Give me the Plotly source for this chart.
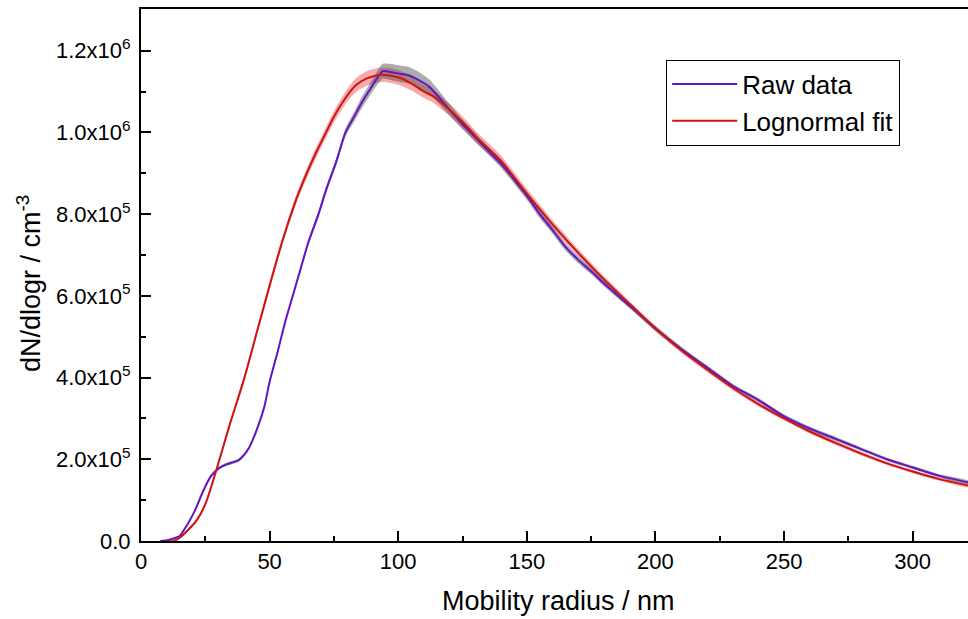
import plotly.graph_objects as go

# ---------------- data ----------------
raw_r = [7.5, 10, 12, 15, 18, 21, 24, 27, 30, 33, 36, 38, 40, 42, 45, 48, 50, 53, 56, 59,
         62, 65, 69, 72, 76, 79.5, 83, 86, 88.5, 91, 94, 97, 101, 104, 108, 112, 116, 120,
         125, 129, 135, 140, 145, 150, 155, 159, 165, 170, 175, 180, 190, 200, 210, 220,
         230, 240, 250, 260, 270, 280, 290, 300, 310, 322]
raw_n = [0, 2e3, 5e3, 1.2e4, 4e4, 7.5e4, 1.2e5, 1.57e5, 1.77e5, 1.87e5, 1.93e5, 1.98e5,
         2.1e5, 2.28e5, 2.72e5, 3.3e5, 3.9e5, 4.6e5, 5.35e5, 6.0e5, 6.65e5, 7.3e5, 8.0e5,
         8.6e5, 9.3e5, 1.0e6, 1.04e6, 1.075e6, 1.1e6, 1.125e6, 1.15e6, 1.148e6, 1.143e6,
         1.14e6, 1.128e6, 1.112e6, 1.085e6, 1.055e6, 1.02e6, 9.94e5, 9.55e5, 9.23e5,
         8.85e5, 8.45e5, 8.0e5, 7.69e5, 7.2e5, 6.88e5, 6.6e5, 6.3e5, 5.75e5, 5.2e5, 4.7e5,
         4.25e5, 3.8e5, 3.45e5, 3.05e5, 2.75e5, 2.5e5, 2.25e5, 2.0e5, 1.8e5, 1.6e5, 1.43e5]
raw_err = [0, 0, 0, 1e3, 2e3, 3e3, 3e3, 4e3, 4e3, 4e3, 4e3, 4e3, 4e3, 4e3, 5e3, 5e3,
           5e3, 6e3, 6e3, 6e3, 7e3, 7e3, 8e3, 8e3, 9e3, 1e4, 1.2e4, 1.4e4, 1.5e4, 1.6e4,
           1.8e4, 2e4, 2e4, 2e4, 2e4, 1.8e4, 1.6e4, 1.4e4, 1.2e4, 1.1e4, 1e4, 1e4, 1e4,
           1e4, 1e4, 9e3, 9e3, 8e3, 7e3, 7e3, 6e3, 6e3, 6e3, 5e3, 5e3, 5e3, 5e3, 5e3,
           5e3, 4e3, 4e3, 4e3, 4e3, 4e3]

fit_r = [10, 12.6, 15, 18, 21.7, 25, 29.5, 34.7, 40, 45, 50, 55, 60, 62, 65, 68.4, 70,
         74.8, 78, 81.3, 84, 87.8, 90, 93, 96, 100.8, 105, 110, 113.7, 120, 126.7, 130,
         139.6, 150, 160, 170, 180, 190, 200, 210, 220, 230, 240, 250, 260, 270, 280,
         290, 300, 310, 322]
fit_n = [0, 0, 8e3, 2.5e4, 5.1e4, 9e4, 1.78e5, 2.89e5, 3.95e5, 5.1e5, 6.25e5, 7.35e5,
         8.3e5, 8.63e5, 9.08e5, 9.55e5, 9.75e5, 1.036e6, 1.07e6, 1.1e6, 1.118e6,
         1.132e6, 1.137e6, 1.141e6, 1.14e6, 1.133e6, 1.12e6, 1.1e6, 1.088e6, 1.055e6,
         1.014e6, 9.9e5, 9.33e5, 8.5e5, 7.75e5, 7.05e5, 6.4e5, 5.8e5, 5.2e5, 4.67e5,
         4.2e5, 3.75e5, 3.35e5, 3.0e5, 2.68e5, 2.4e5, 2.14e5, 1.9e5, 1.7e5, 1.52e5,
         1.35e5]
fit_err = [0, 0, 2e3, 3e3, 4e3, 5e3, 6e3, 7e3, 8e3, 9e3, 1e4, 1e4, 1.1e4, 1.1e4, 1.2e4,
           1.3e4, 1.3e4, 1.4e4, 1.5e4, 1.6e4, 1.7e4, 1.8e4, 1.8e4, 1.8e4, 1.8e4, 1.8e4,
           1.7e4, 1.6e4, 1.6e4, 1.5e4, 1.4e4, 1.4e4, 1.3e4, 1.2e4, 1e4, 9e3, 8e3, 7e3,
           7e3, 6e3, 6e3, 6e3, 5e3, 5e3, 5e3, 5e3, 5e3, 4e3, 4e3, 4e3, 4e3]

ytick_vals = [0, 2e5, 4e5, 6e5, 8e5, 1.0e6, 1.2e6]
ytick_text = ["0.0", "2.0x10<sup>5</sup>", "4.0x10<sup>5</sup>", "6.0x10<sup>5</sup>",
              "8.0x10<sup>5</sup>", "1.0x10<sup>6</sup>", "1.2x10<sup>6</sup>"]
xtick_vals = [0, 50, 100, 150, 200, 250, 300]

x_title = "Mobility radius / nm"
y_title = "dN/dlogr / cm<sup>-3</sup>"

PURPLE = "#6414C8"
RED = "#CC1414"
FONT = "Liberation Sans, Arial, sans-serif"

fig = go.Figure()


def band(xs, ys, es, color):
    up = [y + e for y, e in zip(ys, es)]
    lo = [y - e for y, e in zip(ys, es)]
    fig.add_trace(go.Scatter(x=xs + xs[::-1], y=up + lo[::-1], fill="toself",
                             fillcolor=color, line=dict(width=0, shape="spline",
                                                        smoothing=0.6),
                             mode="lines", showlegend=False, hoverinfo="skip"))


band(fit_r, fit_n, fit_err, "rgba(235,70,70,0.45)")
band(raw_r, raw_n, raw_err, "rgba(70,70,70,0.45)")

fig.add_trace(go.Scatter(x=raw_r, y=raw_n, mode="lines", name="Raw data",
                         line=dict(color=PURPLE, width=2, shape="spline", smoothing=0.6)))
fig.add_trace(go.Scatter(x=fit_r, y=fit_n, mode="lines", name="Lognormal fit",
                         line=dict(color=RED, width=2, shape="spline", smoothing=0.8)))

axis_common = dict(showline=True, linecolor="black", linewidth=2, ticks="inside",
                   ticklen=10, tickwidth=2, tickcolor="black", showgrid=False,
                   zeroline=False, tickfont=dict(family=FONT, size=22, color="black"))

fig.update_xaxes(range=[0, 321.5], tickvals=xtick_vals, mirror=True,
                 minor=dict(ticks="inside", ticklen=5, tickwidth=2, tickcolor="black",
                            dtick=25, tick0=0),
                 **axis_common)
fig.update_yaxes(range=[0, 1.302e6], tickvals=ytick_vals, ticktext=ytick_text,
                 ticklabelstandoff=4,
                 minor=dict(ticks="inside", ticklen=5, tickwidth=2, tickcolor="black",
                            dtick=1e5, tick0=0),
                 **axis_common)

title_font = dict(family=FONT, size=27, color="black")
fig.add_annotation(text=x_title, xref="paper", yref="paper", x=(558 - 141) / 827,
                   y=-(601 - 541) / 532, xanchor="center", yanchor="middle",
                   showarrow=False, font=title_font)
fig.add_annotation(text=y_title, xref="paper", yref="paper", x=-(141 - 29) / 827,
                   y=(541 - 284) / 532, xanchor="center", yanchor="middle",
                   textangle=-90, showarrow=False, font=title_font)

fig.update_layout(
    width=968, height=619,
    margin=dict(l=141, r=0, t=9, b=78),
    paper_bgcolor="white", plot_bgcolor="white",
    font=dict(family=FONT, color="black"),
    legend=dict(x=0.635, y=0.905, xanchor="left", yanchor="top",
                bordercolor="black", borderwidth=1, bgcolor="white",
                font=dict(family=FONT, size=26, color="black"),
                itemwidth=65, tracegroupgap=0),
)

fig.write_html("out.html")
